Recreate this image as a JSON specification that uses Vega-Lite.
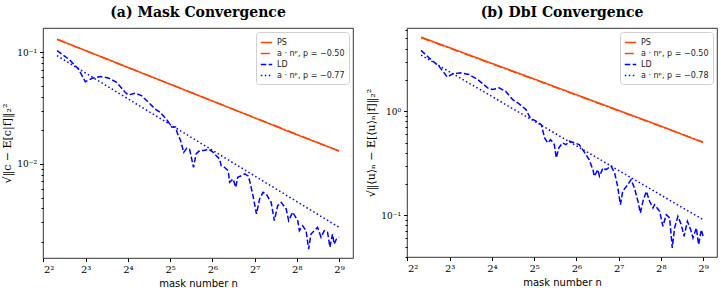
{
  "$schema": "https://vega.github.io/schema/vega-lite/v6.json",
  "padding": {"left": 1, "top": 5, "right": 1, "bottom": 2},
  "background": "white",
  "config": {
    "view": {"stroke": "black", "strokeWidth": 0.8},
    "concat": {"spacing": 11},
    "axis": {"grid": false, "domain": false, "tickColor": "black", "labelColor": "black", "labelFont": "DejaVu Serif", "labelFontSize": 9, "titleFont": "DejaVu Sans", "titleFontSize": 10, "titleFontWeight": "normal", "titleColor": "black", "labelPadding": 3},
    "title": {"font": "DejaVu Serif", "fontSize": 14, "fontWeight": "bold", "color": "black", "offset": 8, "anchor": "middle"},
    "legend": {"orient": "top-right", "offset": 4, "fillColor": "white", "strokeColor": "#d0d0d0", "padding": 4, "cornerRadius": 3, "labelFont": "DejaVu Sans", "labelFontSize": 8, "labelColor": "#222", "symbolType": "stroke", "symbolSize": 130, "symbolStrokeWidth": 1.5, "rowPadding": 0, "labelLimit": 200, "title": null}
  },
  "datasets": {
    "a": [
      {"n": 5, "v": 0.131, "s": "PS"}, {"n": 8, "v": 0.1036, "s": "PS"}, {"n": 16, "v": 0.0732, "s": "PS"}, {"n": 32, "v": 0.0518, "s": "PS"}, {"n": 64, "v": 0.0366, "s": "PS"}, {"n": 128, "v": 0.0259, "s": "PS"}, {"n": 256, "v": 0.0183, "s": "PS"}, {"n": 512, "v": 0.0131, "s": "PS"},
      {"n": 5, "v": 0.1305, "s": "a · nᵖ, p = −0.50"}, {"n": 512, "v": 0.01305, "s": "a · nᵖ, p = −0.50"},
      {"n": 5, "v": 0.1033, "s": "LD"}, {"n": 6.05, "v": 0.0871, "s": "LD"}, {"n": 7.1, "v": 0.0709, "s": "LD"}, {"n": 7.95, "v": 0.0546, "s": "LD"}, {"n": 8.9, "v": 0.0585, "s": "LD"}, {"n": 10.2, "v": 0.0607, "s": "LD"}, {"n": 11.6, "v": 0.0589, "s": "LD"}, {"n": 13.3, "v": 0.0539, "s": "LD"}, {"n": 15.3, "v": 0.0438, "s": "LD"}, {"n": 16.1, "v": 0.0415, "s": "LD"}, {"n": 18, "v": 0.043, "s": "LD"}, {"n": 20, "v": 0.0409, "s": "LD"}, {"n": 22.4, "v": 0.0357, "s": "LD"}, {"n": 25, "v": 0.0311, "s": "LD"}, {"n": 27, "v": 0.0292, "s": "LD"}, {"n": 30, "v": 0.0253, "s": "LD"}, {"n": 33, "v": 0.0213, "s": "LD"}, {"n": 35, "v": 0.0214, "s": "LD"}, {"n": 36, "v": 0.0189, "s": "LD"}, {"n": 38, "v": 0.0162, "s": "LD"}, {"n": 40, "v": 0.0127, "s": "LD"}, {"n": 42, "v": 0.0138, "s": "LD"}, {"n": 44, "v": 0.0136, "s": "LD"}, {"n": 47, "v": 0.00934, "s": "LD"}, {"n": 49, "v": 0.0123, "s": "LD"}, {"n": 52, "v": 0.0132, "s": "LD"}, {"n": 56, "v": 0.0132, "s": "LD"}, {"n": 60, "v": 0.0136, "s": "LD"}, {"n": 65, "v": 0.0127, "s": "LD"}, {"n": 68, "v": 0.0119, "s": "LD"}, {"n": 72, "v": 0.0111, "s": "LD"}, {"n": 74, "v": 0.00966, "s": "LD"}, {"n": 78, "v": 0.00934, "s": "LD"}, {"n": 83, "v": 0.00871, "s": "LD"}, {"n": 85, "v": 0.00686, "s": "LD"}, {"n": 90, "v": 0.00734, "s": "LD"}, {"n": 94, "v": 0.00619, "s": "LD"}, {"n": 97, "v": 0.0076, "s": "LD"}, {"n": 103, "v": 0.00785, "s": "LD"}, {"n": 109, "v": 0.00814, "s": "LD"}, {"n": 115, "v": 0.00781, "s": "LD"}, {"n": 118, "v": 0.00709, "s": "LD"}, {"n": 124, "v": 0.00539, "s": "LD"}, {"n": 132, "v": 0.00357, "s": "LD"}, {"n": 139, "v": 0.00486, "s": "LD"}, {"n": 147, "v": 0.00558, "s": "LD"}, {"n": 155, "v": 0.00539, "s": "LD"}, {"n": 168, "v": 0.00454, "s": "LD"}, {"n": 177, "v": 0.00311, "s": "LD"}, {"n": 187, "v": 0.00423, "s": "LD"}, {"n": 198, "v": 0.00454, "s": "LD"}, {"n": 215, "v": 0.00396, "s": "LD"}, {"n": 224, "v": 0.00311, "s": "LD"}, {"n": 239, "v": 0.0037, "s": "LD"}, {"n": 260, "v": 0.00311, "s": "LD"}, {"n": 267, "v": 0.00253, "s": "LD"}, {"n": 282, "v": 0.0028, "s": "LD"}, {"n": 298, "v": 0.00253, "s": "LD"}, {"n": 311, "v": 0.00173, "s": "LD"}, {"n": 323, "v": 0.00236, "s": "LD"}, {"n": 341, "v": 0.00253, "s": "LD"}, {"n": 360, "v": 0.00271, "s": "LD"}, {"n": 381, "v": 0.00221, "s": "LD"}, {"n": 402, "v": 0.00253, "s": "LD"}, {"n": 424, "v": 0.00245, "s": "LD"}, {"n": 441, "v": 0.0018, "s": "LD"}, {"n": 460, "v": 0.00236, "s": "LD"}, {"n": 473, "v": 0.00192, "s": "LD"}, {"n": 491, "v": 0.00213, "s": "LD"}, {"n": 512, "v": 0.00221, "s": "LD"},
      {"n": 5, "v": 0.0933, "s": "a · nᵖ, p = −0.77"}, {"n": 512, "v": 0.00271, "s": "a · nᵖ, p = −0.77"}
    ],
    "b": [
      {"n": 5, "v": 5.15, "s": "PS"}, {"n": 8, "v": 4.07, "s": "PS"}, {"n": 16, "v": 2.88, "s": "PS"}, {"n": 32, "v": 2.04, "s": "PS"}, {"n": 64, "v": 1.44, "s": "PS"}, {"n": 128, "v": 1.018, "s": "PS"}, {"n": 256, "v": 0.72, "s": "PS"}, {"n": 512, "v": 0.5, "s": "PS"},
      {"n": 5, "v": 5.1, "s": "a · nᵖ, p = −0.50"}, {"n": 512, "v": 0.505, "s": "a · nᵖ, p = −0.50"},
      {"n": 5, "v": 3.843, "s": "LD"}, {"n": 5.7, "v": 3.254, "s": "LD"}, {"n": 6.7, "v": 2.708, "s": "LD"}, {"n": 7.7, "v": 2.123, "s": "LD"}, {"n": 8.4, "v": 2.284, "s": "LD"}, {"n": 9.6, "v": 2.335, "s": "LD"}, {"n": 11, "v": 2.248, "s": "LD"}, {"n": 12.7, "v": 2.013, "s": "LD"}, {"n": 14.9, "v": 1.675, "s": "LD"}, {"n": 16.2, "v": 1.613, "s": "LD"}, {"n": 18, "v": 1.675, "s": "LD"}, {"n": 20, "v": 1.557, "s": "LD"}, {"n": 22.5, "v": 1.293, "s": "LD"}, {"n": 25, "v": 1.176, "s": "LD"}, {"n": 28, "v": 1.036, "s": "LD"}, {"n": 30, "v": 0.862, "s": "LD"}, {"n": 33, "v": 0.801, "s": "LD"}, {"n": 36, "v": 0.743, "s": "LD"}, {"n": 38, "v": 0.554, "s": "LD"}, {"n": 40, "v": 0.496, "s": "LD"}, {"n": 42, "v": 0.533, "s": "LD"}, {"n": 44.6, "v": 0.477, "s": "LD"}, {"n": 46, "v": 0.356, "s": "LD"}, {"n": 48, "v": 0.444, "s": "LD"}, {"n": 51, "v": 0.496, "s": "LD"}, {"n": 54, "v": 0.477, "s": "LD"}, {"n": 57, "v": 0.515, "s": "LD"}, {"n": 62, "v": 0.496, "s": "LD"}, {"n": 67, "v": 0.477, "s": "LD"}, {"n": 71, "v": 0.427, "s": "LD"}, {"n": 75, "v": 0.382, "s": "LD"}, {"n": 79, "v": 0.342, "s": "LD"}, {"n": 84, "v": 0.274, "s": "LD"}, {"n": 86, "v": 0.237, "s": "LD"}, {"n": 91, "v": 0.274, "s": "LD"}, {"n": 93.5, "v": 0.237, "s": "LD"}, {"n": 99, "v": 0.285, "s": "LD"}, {"n": 104, "v": 0.274, "s": "LD"}, {"n": 113, "v": 0.296, "s": "LD"}, {"n": 120, "v": 0.255, "s": "LD"}, {"n": 126, "v": 0.19, "s": "LD"}, {"n": 132, "v": 0.1264, "s": "LD"}, {"n": 137, "v": 0.17, "s": "LD"}, {"n": 149, "v": 0.197, "s": "LD"}, {"n": 157, "v": 0.22, "s": "LD"}, {"n": 166, "v": 0.183, "s": "LD"}, {"n": 176, "v": 0.1364, "s": "LD"}, {"n": 183, "v": 0.1052, "s": "LD"}, {"n": 191, "v": 0.1364, "s": "LD"}, {"n": 202, "v": 0.17, "s": "LD"}, {"n": 213, "v": 0.1364, "s": "LD"}, {"n": 225, "v": 0.1175, "s": "LD"}, {"n": 231, "v": 0.1264, "s": "LD"}, {"n": 251, "v": 0.1093, "s": "LD"}, {"n": 265, "v": 0.0784, "s": "LD"}, {"n": 280, "v": 0.1013, "s": "LD"}, {"n": 296, "v": 0.0942, "s": "LD"}, {"n": 309, "v": 0.0485, "s": "LD"}, {"n": 321, "v": 0.0755, "s": "LD"}, {"n": 339, "v": 0.0978, "s": "LD"}, {"n": 358, "v": 0.0812, "s": "LD"}, {"n": 375, "v": 0.0628, "s": "LD"}, {"n": 396, "v": 0.0876, "s": "LD"}, {"n": 418, "v": 0.0727, "s": "LD"}, {"n": 434, "v": 0.0605, "s": "LD"}, {"n": 459, "v": 0.0755, "s": "LD"}, {"n": 476, "v": 0.0522, "s": "LD"}, {"n": 498, "v": 0.0727, "s": "LD"}, {"n": 512, "v": 0.0632, "s": "LD"},
      {"n": 5, "v": 3.455, "s": "a · nᵖ, p = −0.78"}, {"n": 512, "v": 0.0907, "s": "a · nᵖ, p = −0.78"}
    ]
  },
  "hconcat": [
    {
      "title": "(a) Mask Convergence",
      "width": 310, "height": 230,
      "data": {"name": "a"},
      "mark": {"type": "line", "strokeWidth": 1.5, "clip": true},
      "encoding": {
        "x": {"field": "n", "type": "quantitative", "scale": {"type": "log", "base": 2, "domain": [3.97, 644], "nice": false},
              "axis": {"values": [4, 8, 16, 32, 64, 128, 256, 512], "labelExpr": "'2' + ['⁰','¹','²','³','⁴','⁵','⁶','⁷','⁸','⁹'][round(log(datum.value)/log(2))]", "title": "mask number n", "tickSize": 3.5, "labelFontSize": 10}},
        "y": {"field": "v", "type": "quantitative", "scale": {"type": "log", "domain": [0.00144, 0.165], "nice": false},
              "axis": {"values": [0.002, 0.003, 0.004, 0.005, 0.006, 0.007, 0.008, 0.009, 0.01, 0.02, 0.03, 0.04, 0.05, 0.06, 0.07, 0.08, 0.09, 0.1],
                       "labelExpr": "datum.value == 0.1 ? '10⁻¹' : (datum.value == 0.01 ? '10⁻²' : '')",
                       "tickSize": {"condition": {"test": "datum.value == 0.1 || datum.value == 0.01", "value": 3.5}, "value": 2},
                       "title": "√‖c − E[c|f]‖₂²", "titleFont": "DejaVu Serif", "titleFontSize": 11}},
        "color": {"field": "s", "type": "nominal", "sort": null,
                  "scale": {"domain": ["PS", "a · nᵖ, p = −0.50", "LD", "a · nᵖ, p = −0.77"], "range": ["#ff4500", "#ff4500", "#0000ff", "#0000ff"]}},
        "strokeDash": {"field": "s", "type": "nominal", "sort": null,
                  "scale": {"domain": ["PS", "a · nᵖ, p = −0.50", "LD", "a · nᵖ, p = −0.77"], "range": [[1, 0], [9, 2.5, 1.5, 2.5], [5.5, 2.4], [1.5, 2.5]]}}
      }
    },
    {
      "title": "(b) DbI Convergence",
      "width": 310, "height": 229,
      "data": {"name": "b"},
      "mark": {"type": "line", "strokeWidth": 1.5, "clip": true},
      "encoding": {
        "x": {"field": "n", "type": "quantitative", "scale": {"type": "log", "base": 2, "domain": [3.97, 644], "nice": false},
              "axis": {"values": [4, 8, 16, 32, 64, 128, 256, 512], "labelExpr": "'2' + ['⁰','¹','²','³','⁴','⁵','⁶','⁷','⁸','⁹'][round(log(datum.value)/log(2))]", "title": "mask number n", "tickSize": 3.5, "labelFontSize": 10}},
        "y": {"field": "v", "type": "quantitative", "scale": {"type": "log", "domain": [0.0397, 6.3], "nice": false},
              "axis": {"values": [0.04, 0.05, 0.06, 0.07, 0.08, 0.09, 0.1, 0.2, 0.3, 0.4, 0.5, 0.6, 0.7, 0.8, 0.9, 1, 2, 3, 4, 5, 6],
                       "labelExpr": "datum.value == 1 ? '10⁰' : (datum.value == 0.1 ? '10⁻¹' : '')",
                       "tickSize": {"condition": {"test": "datum.value == 0.1 || datum.value == 1", "value": 3.5}, "value": 2},
                       "title": "√‖⟨u⟩ₙ − E[⟨u⟩ₙ|f]‖₂²", "titleFont": "DejaVu Serif", "titleFontSize": 11}},
        "color": {"field": "s", "type": "nominal", "sort": null,
                  "scale": {"domain": ["PS", "a · nᵖ, p = −0.50", "LD", "a · nᵖ, p = −0.78"], "range": ["#ff4500", "#ff4500", "#0000ff", "#0000ff"]}},
        "strokeDash": {"field": "s", "type": "nominal", "sort": null,
                  "scale": {"domain": ["PS", "a · nᵖ, p = −0.50", "LD", "a · nᵖ, p = −0.78"], "range": [[1, 0], [9, 2.5, 1.5, 2.5], [5.5, 2.4], [1.5, 2.5]]}}
      }
    }
  ],
  "resolve": {
    "scale": {"x": "independent", "y": "independent", "color": "independent", "strokeDash": "independent"},
    "legend": {"color": "independent", "strokeDash": "independent"}
  }
}
